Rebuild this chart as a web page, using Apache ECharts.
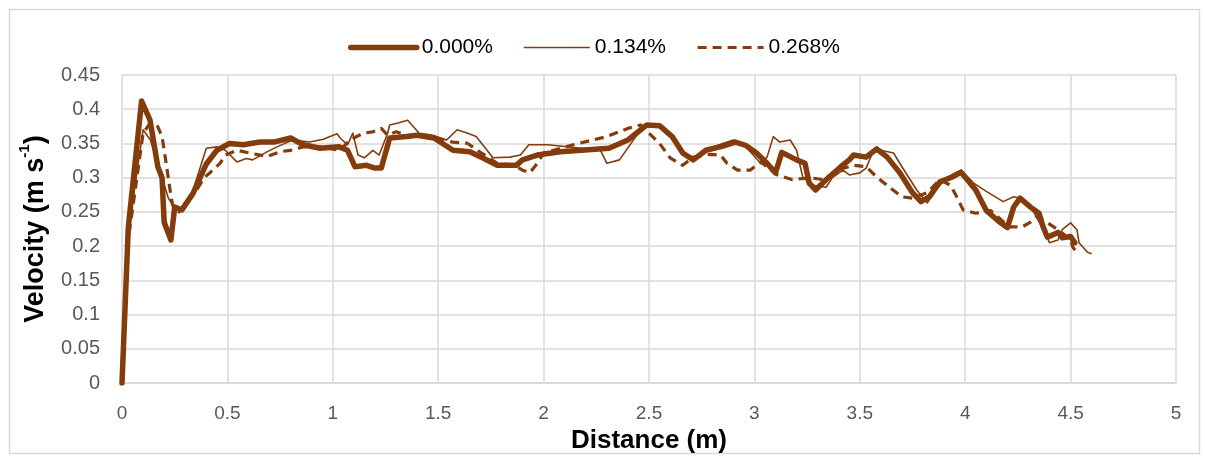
<!DOCTYPE html>
<html>
<head>
<meta charset="utf-8">
<title>Velocity vs Distance</title>
<script src="https://cdn.jsdelivr.net/npm/echarts@6/dist/echarts.min.js"></script>
<style>
  html, body { margin: 0; padding: 0; background: #ffffff; }
  #chart { width: 1205px; height: 457px; }
</style>
</head>
<body>
<div id="chart"></div>
<script>
// Series names (concentration)
const seriesNames = ['0.000%', '0.134%', '0.268%'];

// Axis ticks
const xTicks = [0, 0.5, 1, 1.5, 2, 2.5, 3, 3.5, 4, 4.5, 5];
const yTicks = [0, 0.05, 0.1, 0.15, 0.2, 0.25, 0.3, 0.35, 0.4, 0.45];

// Velocity (m/s) against distance (m), one array of [distance, velocity] per series
const v000 = [
  [0,0],[0.03,0.228],[0.093,0.412],[0.133,0.384],[0.17,0.316],[0.19,0.30],[0.2,0.235],[0.232,0.209],
  [0.25,0.257],[0.284,0.253],[0.337,0.277],[0.40,0.32],[0.45,0.34],[0.51,0.35],[0.575,0.348],[0.655,0.352],
  [0.72,0.352],[0.80,0.358],[0.86,0.348],[0.94,0.343],[1.03,0.345],[1.07,0.34],[1.105,0.316],[1.16,0.318],
  [1.20,0.314],[1.23,0.314],[1.27,0.358],[1.35,0.36],[1.40,0.362],[1.48,0.358],[1.57,0.34],[1.65,0.338],
  [1.71,0.329],[1.78,0.318],[1.87,0.318],[1.90,0.326],[1.97,0.333],[2.08,0.338],[2.31,0.343],[2.40,0.355],
  [2.49,0.377],[2.55,0.376],[2.61,0.36],[2.66,0.336],[2.71,0.326],[2.77,0.34],[2.85,0.346],[2.91,0.352],
  [2.96,0.347],[3.01,0.336],[3.06,0.321],[3.10,0.307],[3.13,0.337],[3.20,0.326],[3.24,0.321],[3.26,0.292],
  [3.29,0.282],[3.34,0.297],[3.41,0.316],[3.45,0.326],[3.47,0.333],[3.53,0.33],[3.58,0.342],[3.63,0.33],
  [3.69,0.307],[3.75,0.278],[3.79,0.265],[3.83,0.272],[3.88,0.294],[3.94,0.301],[3.98,0.308],[4.01,0.297],
  [4.05,0.282],[4.10,0.252],[4.16,0.236],[4.20,0.227],[4.23,0.257],[4.26,0.27],[4.31,0.257],[4.35,0.248],
  [4.37,0.228],[4.39,0.213],[4.44,0.22],[4.46,0.212],[4.50,0.214],[4.52,0.205]
];

const v134 = [
  [0,0],[0.03,0.22],[0.10,0.37],[0.135,0.355],[0.17,0.32],[0.19,0.30],[0.22,0.27],[0.25,0.255],
  [0.28,0.255],[0.33,0.275],[0.40,0.343],[0.45,0.345],[0.49,0.34],[0.545,0.323],[0.59,0.328],[0.62,0.326],
  [0.69,0.338],[0.735,0.345],[0.81,0.355],[0.89,0.352],[0.955,0.356],[1.02,0.364],[1.035,0.358],[1.07,0.348],
  [1.095,0.365],[1.12,0.333],[1.15,0.329],[1.19,0.34],[1.22,0.333],[1.26,0.365],[1.27,0.377],[1.31,0.38],
  [1.355,0.384],[1.41,0.365],[1.475,0.362],[1.54,0.355],[1.59,0.37],[1.64,0.365],[1.68,0.36],[1.76,0.329],
  [1.84,0.33],[1.89,0.333],[1.93,0.348],[2.02,0.348],[2.27,0.34],[2.30,0.321],[2.36,0.326],[2.46,0.37],
  [2.49,0.377],[2.55,0.376],[2.61,0.358],[2.67,0.335],[2.72,0.328],[2.78,0.342],[2.85,0.35],[2.90,0.355],
  [2.95,0.348],[3.03,0.321],[3.06,0.33],[3.09,0.36],[3.12,0.352],[3.17,0.355],[3.20,0.34],[3.23,0.30],
  [3.28,0.289],[3.34,0.286],[3.37,0.30],[3.42,0.311],[3.45,0.304],[3.50,0.307],[3.53,0.314],[3.56,0.336],
  [3.60,0.34],[3.66,0.336],[3.70,0.316],[3.77,0.282],[3.82,0.263],[3.85,0.278],[3.91,0.30],[3.98,0.311],
  [4.04,0.292],[4.10,0.28],[4.18,0.265],[4.23,0.272],[4.26,0.27],[4.32,0.253],[4.37,0.224],[4.40,0.205],
  [4.44,0.209],[4.46,0.224],[4.50,0.234],[4.53,0.224],[4.54,0.205],[4.58,0.191],[4.60,0.189]
];

const v268 = [
  [0,0],[0.03,0.21],[0.10,0.365],[0.13,0.378],[0.166,0.377],[0.19,0.36],[0.21,0.32],[0.228,0.282],
  [0.24,0.26],[0.27,0.25],[0.30,0.26],[0.35,0.28],[0.39,0.30],[0.42,0.308],[0.465,0.321],[0.49,0.333],
  [0.545,0.34],[0.62,0.335],[0.69,0.331],[0.75,0.338],[0.80,0.34],[0.86,0.345],[0.94,0.345],[1.035,0.34],
  [1.08,0.355],[1.145,0.365],[1.19,0.367],[1.23,0.372],[1.26,0.362],[1.30,0.367],[1.37,0.36],[1.45,0.362],
  [1.50,0.357],[1.57,0.352],[1.64,0.35],[1.71,0.335],[1.78,0.321],[1.86,0.318],[1.90,0.311],[1.935,0.307],
  [1.97,0.321],[2.00,0.336],[2.14,0.348],[2.30,0.36],[2.40,0.372],[2.46,0.377],[2.50,0.365],[2.55,0.35],
  [2.60,0.329],[2.66,0.318],[2.71,0.33],[2.79,0.334],[2.84,0.333],[2.87,0.321],[2.92,0.311],[2.98,0.311],
  [3.03,0.323],[3.11,0.304],[3.18,0.297],[3.26,0.30],[3.33,0.297],[3.39,0.311],[3.47,0.318],[3.53,0.316],
  [3.58,0.301],[3.64,0.286],[3.70,0.272],[3.75,0.27],[3.82,0.278],[3.88,0.297],[3.93,0.289],[3.96,0.272],
  [3.99,0.253],[4.05,0.248],[4.12,0.252],[4.21,0.228],[4.27,0.228],[4.31,0.235],[4.34,0.243],[4.39,0.234],
  [4.44,0.224],[4.46,0.219],[4.50,0.209],[4.51,0.199],[4.53,0.19]
];

const BROWN = '#843c0c';
const GRID = '#d9d9d9';
const FONT = '"Liberation Sans", Arial, sans-serif';

// Line widths and dash patterns per series (shared by the plot and the legend)
const lineWidths = [5.5, 1.6, 3.2];
const lineTypes = ['solid', 'solid', [9, 6]];
const lineCaps = ['round', 'butt', 'butt'];

const chart = echarts.init(document.getElementById('chart'), null, { renderer: 'canvas' });

chart.setOption({
  backgroundColor: '#ffffff',
  animation: false,
  graphic: [{
    type: 'rect',
    left: 7, top: 7,
    shape: { width: 1190, height: 444 },
    style: { fill: 'none', stroke: GRID, lineWidth: 1.5 },
    silent: true
  }],
  legend: {
    left: 343,
    top: 32,
    itemWidth: 66,
    itemHeight: 12,
    itemGap: 30,
    itemStyle: { opacity: 0 },
    textStyle: { fontFamily: FONT, fontSize: 21, color: '#000000' },
    data: seriesNames.map((n, i) => ({
      name: n,
      lineStyle: { width: lineWidths[i], type: lineTypes[i], cap: lineCaps[i], color: BROWN }
    }))
  },
  grid: { left: 122, right: 29, top: 75, bottom: 74, outerBoundsMode: 'none', containLabel: false },
  xAxis: {
    type: 'value',
    min: xTicks[0],
    max: xTicks[xTicks.length - 1],
    interval: 0.5,
    name: 'Distance (m)',
    nameLocation: 'middle',
    nameGap: 44,
    nameTextStyle: { fontFamily: FONT, fontSize: 26, fontWeight: 'bold', color: '#000000' },
    axisLine: { show: true, lineStyle: { color: GRID, width: 1.5 } },
    axisTick: { show: false },
    axisLabel: { fontFamily: FONT, fontSize: 19, color: '#595959', margin: 21 },
    splitLine: { show: true, lineStyle: { color: GRID, width: 1.5 } }
  },
  yAxis: {
    type: 'value',
    min: yTicks[0],
    max: yTicks[yTicks.length - 1],
    interval: 0.05,
    name: '{a|Velocity (m s}{b|-1}{a|)}',
    nameLocation: 'middle',
    nameGap: 73,
    nameTextStyle: {
      rich: {
        a: { fontFamily: FONT, fontSize: 27, fontWeight: 'bold', color: '#000000', lineHeight: 32, verticalAlign: 'bottom' },
        b: { fontFamily: FONT, fontSize: 15, fontWeight: 'bold', color: '#000000', lineHeight: 32, verticalAlign: 'top', padding: [0, 0, 14, 0] }
      }
    },
    axisLine: { show: false },
    axisTick: { show: false },
    axisLabel: { fontFamily: FONT, fontSize: 20, color: '#595959', margin: 22 },
    splitLine: { show: true, lineStyle: { color: GRID, width: 1.5 } }
  },
  series: [0, 1, 2].map(i => ({
    name: seriesNames[i],
    type: 'line',
    data: [v000, v134, v268][i],
    showSymbol: false,
    symbol: 'none',
    lineStyle: { color: BROWN, width: lineWidths[i], type: lineTypes[i], cap: lineCaps[i], join: 'round' },
    itemStyle: { color: BROWN }
  }))
});
</script>
</body>
</html>
